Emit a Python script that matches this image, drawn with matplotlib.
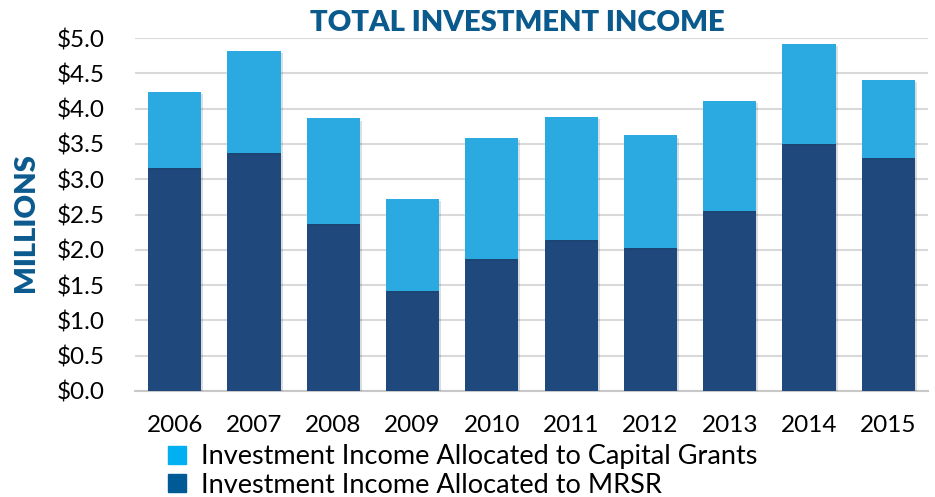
import numpy as np
import matplotlib
matplotlib.use('Agg')
import matplotlib.pyplot as plt
from matplotlib.patches import Patch
import matplotlib.patheffects as pe

# Investment income by year, $ millions
years = ['2006', '2007', '2008', '2009', '2010', '2011', '2012', '2013', '2014', '2015']
mrsr = [3.16, 3.37, 2.37, 1.42, 1.87, 2.14, 2.02, 2.55, 3.50, 3.30]
total = [4.24, 4.82, 3.86, 2.72, 3.59, 3.88, 3.62, 4.11, 4.91, 4.40]
capital_grants = [t - m for t, m in zip(total, mrsr)]

yticks = np.arange(0, 5.01, 0.5)
ytick_labels = [f'${v:.1f}' for v in yticks]

DARK = '#1F497D'
LIGHT = '#2BAAE1'
TITLE_BLUE = '#0B5A8E'

plt.rcParams['font.family'] = ['Lato', 'DejaVu Sans']

fig = plt.figure(figsize=(9.35, 4.97), dpi=100)
ax = fig.add_axes([0.1444, 0.2133, 0.848, 0.7102])

x = np.arange(len(years))
shadow = [pe.SimplePatchShadow(offset=(1.5, -1.5), alpha=0.15), pe.Normal()]
ax.bar(x, mrsr, width=0.67, color=DARK, zorder=3, path_effects=shadow)
ax.bar(x, capital_grants, bottom=mrsr, width=0.67, color=LIGHT, zorder=3,
       path_effects=shadow)

ax.set_xlim(-0.5, len(years) - 0.5)
ax.set_ylim(0, 5.0)
ax.set_yticks(yticks)
ax.set_yticklabels(ytick_labels)
ax.set_xticks(x)
ax.set_xticklabels(years)
ax.tick_params(axis='both', length=0, labelsize=17.5, colors='black')
ax.tick_params(axis='x', pad=17)
ax.tick_params(axis='y', pad=22)
ax.grid(axis='y', color='#D9D9D9', linewidth=1.5, zorder=0)
for s in ['top', 'right', 'left']:
    ax.spines[s].set_visible(False)
ax.spines['bottom'].set_color('#C8C8C8')
ax.spines['bottom'].set_linewidth(1.5)

fig.text(0.553, 0.954, 'TOTAL INVESTMENT INCOME', ha='center', va='center',
         fontsize=21, fontweight='heavy', color=TITLE_BLUE)
fig.text(0.028, 0.553, 'MILLIONS', ha='center', va='center', rotation=90,
         fontsize=21, fontweight='heavy', color=TITLE_BLUE)

handles = [Patch(color='#00B0F0', label='Investment Income Allocated to Capital Grants'),
           Patch(color='#005A96', label='Investment Income Allocated to MRSR')]
fig.legend(handles=handles, loc='upper left', bbox_to_anchor=(0.18, 0.106),
           frameon=False, fontsize=19.5, handlelength=0.65, handleheight=0.65,
           handletextpad=0.55, labelspacing=0.12, borderaxespad=0, borderpad=0)

fig.savefig('out.png', dpi=100)
